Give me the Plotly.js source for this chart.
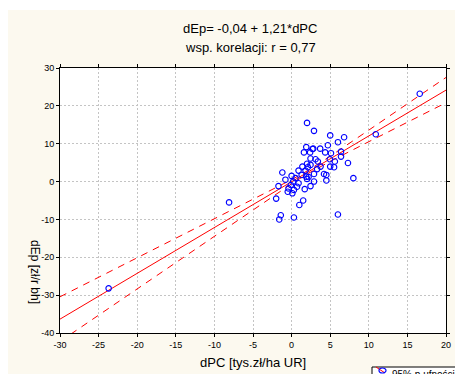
<!DOCTYPE html>
<html>
<head>
<meta charset="utf-8">
<script src="https://cdn.plot.ly/plotly-3.0.1.min.js"></script>
<style>html,body{margin:0;padding:0;background:#fff;}#chart{width:455px;height:374px;}</style>
</head>
<body>
<div id="chart"></div>
<script>
// Scatter points (dPC, dEp)
const dPC = [2.0, 2.9, 5.0, 6.8, 6.0, 4.7, 1.9, 2.8, 3.7, 1.6, 2.4, 4.35, 5.1, 6.4, 2.45, 3.1, 4.95, 7.3, 5.6, 3.4,
  2.0, 2.45, 3.75, 5.0, 1.4, 2.1, 0.9, 1.8, -1.2, 2.9, 4.2, 1.3, 1.9, 0.5, 2.0, 4.5, 2.9, 0.2, 0.9, -0.1,
  2.45, -1.7, 0.7, -0.4, 1.7, 0.3, -0.5, 0.1, -2.0, 1.5, 1.0, 6.0, -1.4, 0.3, -1.6, 8.0, 10.9, 16.6, -8.1, -23.7,
  6.4, 2.2, 4.5, 2.7, 5.5, 3.3, 0.0, -0.8];
const dEp = [15.5, 13.4, 12.2, 11.7, 10.4, 9.6, 9.1, 8.7, 8.7, 7.7, 7.7, 7.7, 7.5, 7.9, 6.1, 5.9, 5.9, 4.9, 5.3, 5.3,
  4.7, 4.4, 3.95, 3.95, 3.95, 3.8, 2.9, 2.9, 2.4, 2.0, 2.0, 1.75, 1.3, 0.9, 0.7, 0.3, 0.0, 0.0, -0.45, -0.9,
  -1.2, -1.2, -1.35, -1.8, -2.0, -2.2, -2.7, -3.1, -4.5, -5.0, -6.2, -8.7, -8.9, -9.5, -10.0, 0.9, 12.5, 23.2, -5.5, -28.2,
  6.6, 1.2, 1.75, 8.6, 3.8, 3.3, 1.5, 0.5];

// Regression coefficients from the title
const b0 = -0.04;
const b1 = 1.21;
const lineX = [-30, 20];

// 95% confidence band
const bandX = [-30, -25, -20, -15, -10, -5, 0, 2, 5, 10, 15, 20];
const bandUpper = [-30.44, -25.29, -20.16, -15.03, -9.89, -4.74, 0.50, 2.78, 6.69, 13.59, 20.54, 27.50];
const bandLower = [-42.24, -35.29, -28.32, -21.35, -14.39, -7.44, -0.58, 1.98, 5.33, 10.53, 15.68, 20.82];

// Axis ticks
const xTicks = [-30, -25, -20, -15, -10, -5, 0, 5, 10, 15, 20];
const yTicks = [-40, -30, -20, -10, 0, 10, 20, 30];

const titleLine1 = "dEp= -0,04 + 1,21*dPC";
const titleLine2 = "wsp. korelacji: r = 0,77";
const xTitle = "dPC [tys.zł/ha UR]";
const yTitle = "dEp [zł/r bh]";
const legendText = "95% p.ufności";

const FONT = "Liberation Sans, Arial, sans-serif";
const W = 455, H = 374, L = 60, R = 9, T = 68, B = 41;
const pw = W - L - R, ph = H - T - B;
const px = v => (v - L) / pw;
const py = v => (H - B - v) / ph;

const traces = [
  {x: bandX, y: bandUpper, mode: 'lines', line: {color: '#ff0000', width: 1, dash: '7px,6px'}, hoverinfo: 'skip'},
  {x: bandX, y: bandLower, mode: 'lines', line: {color: '#ff0000', width: 1, dash: '7px,6px'}, hoverinfo: 'skip'},
  {x: lineX, y: lineX.map(v => b0 + b1 * v), mode: 'lines', line: {color: '#ff0000', width: 1}},
  {x: dPC, y: dEp, mode: 'markers', marker: {symbol: 'circle-open', size: 5.5, color: '#0000ff', line: {width: 1.1, color: '#0000ff'}}}
];

const axisCommon = {
  showline: true, linecolor: '#000', linewidth: 1, mirror: 'ticks',
  ticks: 'outside', ticklen: 3, tickcolor: '#000',
  showgrid: true, gridcolor: '#c4c4c4', griddash: '2px,2px', gridwidth: 1,
  zeroline: false, tickfont: {family: FONT, size: 9, color: '#000'}, fixedrange: true
};

const layout = {
  width: W, height: H,
  margin: {l: L, r: R, t: T, b: B, pad: 0},
  paper_bgcolor: '#fcf9ef',
  plot_bgcolor: '#ffffff',
  showlegend: false,
  font: {family: FONT, color: '#000'},
  xaxis: Object.assign({}, axisCommon, {range: [-30, 20], tickvals: xTicks, ticktext: xTicks.map(String)}),
  yaxis: Object.assign({}, axisCommon, {range: [-40, 30], tickvals: yTicks, ticktext: yTicks.map(String)}),
  shapes: [
    {type: 'rect', xref: 'paper', yref: 'paper', x0: -0.3, x1: 1.2, y0: py(10), y1: 1.4, fillcolor: '#ffffff', line: {width: 0}, layer: 'below'},
    {type: 'rect', xref: 'paper', yref: 'paper', x0: -0.3, x1: px(8), y0: -0.3, y1: 1.4, fillcolor: '#ffffff', line: {width: 0}, layer: 'below'},
    {type: 'rect', xref: 'paper', yref: 'paper', x0: px(372), x1: px(470), y0: py(385), y1: py(367), fillcolor: '#ffffff', line: {width: 1, color: '#000'}},
    {type: 'line', xref: 'paper', yref: 'paper', x0: px(376), x1: px(385), y0: py(367), y1: py(373), line: {width: 1, color: '#ff0000'}},
    {type: 'circle', xref: 'paper', yref: 'paper', x0: px(379), x1: px(386), y0: py(373), y1: py(368), line: {width: 1.2, color: '#0000ff'}}
  ],
  annotations: [
    {text: titleLine1, xref: 'paper', yref: 'paper', x: px(250), y: py(28), xanchor: 'center', yanchor: 'middle', showarrow: false, font: {family: FONT, size: 13}},
    {text: titleLine2, xref: 'paper', yref: 'paper', x: px(250), y: py(47), xanchor: 'center', yanchor: 'middle', showarrow: false, font: {family: FONT, size: 13}},
    {text: xTitle, xref: 'paper', yref: 'paper', x: px(253), y: py(362), xanchor: 'center', yanchor: 'middle', showarrow: false, font: {family: FONT, size: 13}},
    {text: yTitle, xref: 'paper', yref: 'paper', x: px(35), y: py(272), xanchor: 'center', yanchor: 'middle', textangle: 90, showarrow: false, font: {family: FONT, size: 12}},
    {text: legendText, xref: 'paper', yref: 'paper', x: px(390), y: py(367), xanchor: 'left', yanchor: 'top', showarrow: false, font: {family: FONT, size: 10}}
  ]
};

Plotly.newPlot('chart', traces, layout, {staticPlot: true, displayModeBar: false});
</script>
</body>
</html>
